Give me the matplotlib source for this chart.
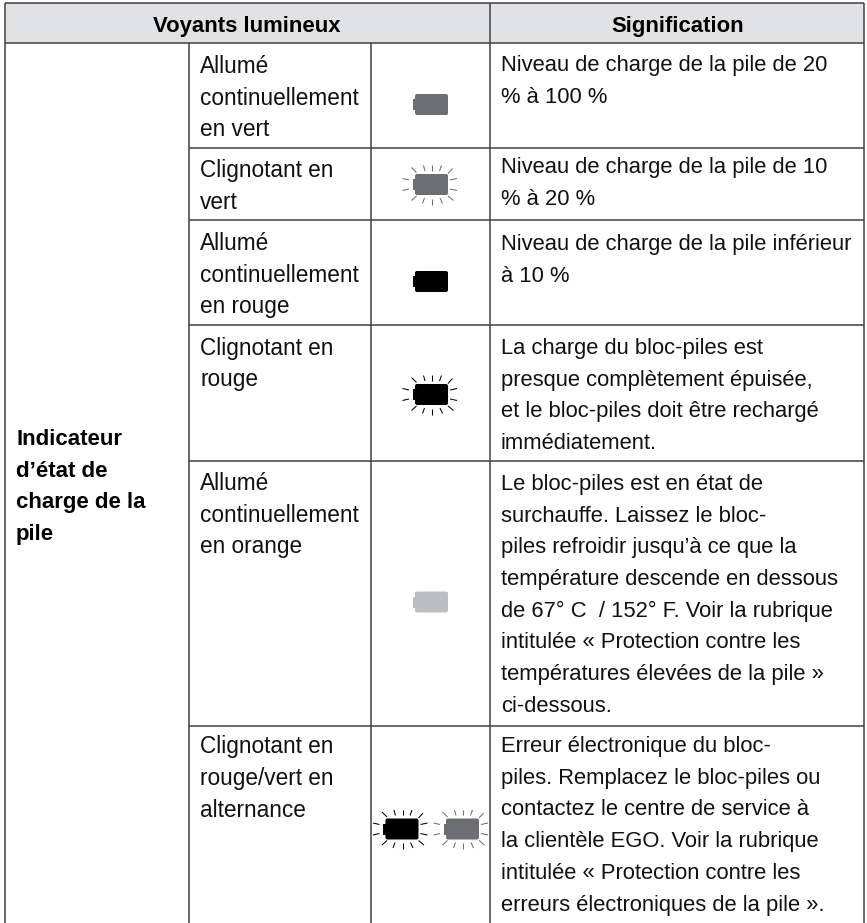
"""Recreate the battery indicator lights table."""

from __future__ import annotations

import matplotlib.pyplot as plt
from matplotlib.patches import FancyBboxPatch, Rectangle

WIDTH = 867
HEIGHT = 923
FONT = ["Liberation Sans", "DejaVu Sans"]
BODY_SIZE = 16.3
MEANING_SIZE = 15.8
BOLD_SIZE = 16.0
HEADER_SIZE = 15.9
LINE_STEP = 31.7
INK = "#111111"
LINE_COLOR = "#414042"
GREEN_GREY = "#6d6e71"
BLACK = "#000000"
ORANGE_GREY = "#bcbec0"

COLUMN_LINES = [5, 189, 370.5, 490, 864]
ROW_LINES = [3, 43, 147.5, 220, 325, 461, 726, 923]

HEADERS = ["Voyants lumineux", "Signification"]
SECTION_LABEL = ["Indicateur", "d’état de", "charge de la", "pile"]
SECTION_BASELINES = [445, 477, 508, 540]

STATES = [
    ["Allumé", "continuellement", "en vert"],
    ["Clignotant en", "vert"],
    ["Allumé", "continuellement", "en rouge"],
    ["Clignotant en", "rouge"],
    ["Allumé", "continuellement", "en orange"],
    ["Clignotant en", "rouge/vert en", "alternance"],
]
STATE_FIRST_BASELINES = [73, 177.5, 250, 354.5, 490, 753.5]

MEANINGS = [
    ["Niveau de charge de la pile de 20", "% à 100 %"],
    ["Niveau de charge de la pile de 10", "% à 20 %"],
    ["Niveau de charge de la pile inférieur", "à 10 %"],
    ["La charge du bloc-piles est", "presque complètement épuisée,",
     "et le bloc-piles doit être rechargé", "immédiatement."],
    ["Le bloc-piles est en état de", "surchauffe. Laissez le bloc-",
     "piles refroidir jusqu’à ce que la", "température descende en dessous",
     "de 67° C  / 152° F. Voir la rubrique", "intitulée « Protection contre les",
     "températures élevées de la pile »", "ci-dessous."],
    ["Erreur électronique du bloc-", "piles. Remplacez le bloc-piles ou",
     "contactez le centre de service à", "la clientèle EGO. Voir la rubrique",
     "intitulée « Protection contre les", "erreurs électroniques de la pile »."],
]
MEANING_FIRST_BASELINES = [71, 173, 250, 354, 490, 752]

# icon: left edge, vertical centre, colour, blinking
ICONS = [
    (412.5, 104.5, GREEN_GREY, False),
    (412.5, 184.5, GREEN_GREY, True),
    (412.5, 281.5, BLACK, False),
    (412.5, 394.5, BLACK, True),
    (412.5, 602, ORANGE_GREY, False),
    (383, 829, BLACK, True),
    (443.5, 829, GREEN_GREY, True),
]

# ray ends relative to the battery centre
RAYS = [
    (1.5, -19.5, 1.5, -14), (-7, -19, -5.5, -13.5), (11, -19, 9, -13.5),
    (-19, -17, -14, -12), (22, -16, 17.5, -11),
    (-28, -6, -21.5, -4.5), (-28, 6, -21.5, 4.5),
    (19.5, -4.5, 26.5, -6), (19.5, 4.5, 26.5, 6),
    (-19, 16, -14, 11.5), (-8, 19, -6, 13.5), (1.5, 14, 1.5, 20),
    (9.5, 13.5, 12, 19), (17.5, 11.5, 23, 16),
]


def draw_battery(ax, left, center, color, blinking):
    ax.add_patch(Rectangle((left, center - 5.5), 4, 11, fc=color, ec="none"))
    ax.add_patch(FancyBboxPatch(
        (left + 3.5, center - 9.5), 31, 19,
        boxstyle="round,pad=1,rounding_size=2", fc=color, ec="none",
    ))
    if blinking:
        mid = left + 18
        for x0, y0, x1, y1 in RAYS:
            ax.plot([mid + x0, mid + x1], [center + y0, center + y1],
                    color=color, lw=0.75, solid_capstyle="butt")


def draw_lines(ax, x, first_baseline, lines, **kwargs):
    for i, line in enumerate(lines):
        ax.text(x, first_baseline + i * LINE_STEP, line, va="baseline", **kwargs)


def main() -> None:
    fig = plt.figure(figsize=(WIDTH / 100, HEIGHT / 100), dpi=100)
    ax = fig.add_axes([0, 0, 1, 1])
    ax.set_xlim(0, WIDTH)
    ax.set_ylim(HEIGHT, 0)
    ax.axis("off")

    left, right = COLUMN_LINES[0], COLUMN_LINES[-1]
    ax.add_patch(Rectangle((left, ROW_LINES[0]), right - left, ROW_LINES[1] - ROW_LINES[0],
                           fc="#e1e2e3", ec="none"))

    line_style = {"color": LINE_COLOR, "lw": 1.1, "solid_capstyle": "butt"}
    ax.plot([left, right], [ROW_LINES[0]] * 2, **line_style)
    ax.plot([left, right], [ROW_LINES[1]] * 2, **line_style)
    for y in ROW_LINES[2:-1]:
        ax.plot([COLUMN_LINES[1], right], [y, y], **line_style)
    for x in [COLUMN_LINES[0], COLUMN_LINES[3], COLUMN_LINES[4]]:
        ax.plot([x, x], [ROW_LINES[0], ROW_LINES[-1]], **line_style)
    for x in COLUMN_LINES[1:3]:
        ax.plot([x, x], [ROW_LINES[1], ROW_LINES[-1]], **line_style)

    header_style = {"family": FONT, "fontsize": HEADER_SIZE, "fontweight": "bold", "color": "black",
                    "ha": "center", "va": "baseline"}
    ax.text(247, 32, HEADERS[0], **header_style)
    ax.text(678, 32, HEADERS[1], **header_style)

    for y, line in zip(SECTION_BASELINES, SECTION_LABEL):
        ax.text(16, y, line, family=FONT, fontsize=BOLD_SIZE, fontweight="bold", color="black",
                va="baseline")

    for lines, baseline in zip(STATES, STATE_FIRST_BASELINES):
        draw_lines(ax, 200, baseline, lines, family=FONT, fontsize=BODY_SIZE, color=INK)
    for lines, baseline in zip(MEANINGS, MEANING_FIRST_BASELINES):
        draw_lines(ax, 501, baseline, lines, family=FONT, fontsize=MEANING_SIZE, color=INK)

    for icon in ICONS:
        draw_battery(ax, *icon)

    fig.savefig("out.png", dpi=100, facecolor="white")
    plt.close(fig)


if __name__ == "__main__":
    main()
